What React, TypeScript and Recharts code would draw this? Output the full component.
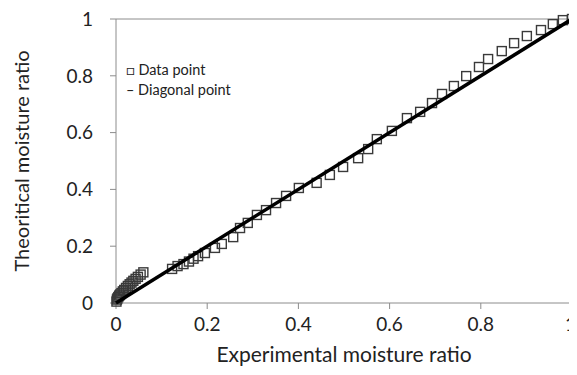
import { ScatterChart, Scatter, XAxis, YAxis, ReferenceLine } from 'recharts';

// Experimental vs theoretical moisture ratio
const experimental = [
  0.001, 0.002, 0.003, 0.005, 0.007, 0.009, 0.012, 0.015, 0.018, 0.022, 0.026, 0.03, 0.034,
  0.038, 0.043, 0.048, 0.054, 0.06,
  0.123, 0.135, 0.148, 0.16, 0.17, 0.18, 0.195, 0.217, 0.232, 0.257, 0.272, 0.289, 0.309,
  0.329, 0.351, 0.373, 0.401, 0.44, 0.469, 0.498, 0.531, 0.553, 0.572, 0.605, 0.638, 0.667,
  0.693, 0.715, 0.741, 0.768, 0.796, 0.816, 0.846, 0.873, 0.901, 0.932, 0.958, 0.98, 1.0,
];
const theoretical = [
  0.005, 0.012, 0.016, 0.021, 0.026, 0.03, 0.035, 0.041, 0.046, 0.053, 0.06, 0.066, 0.072,
  0.078, 0.085, 0.092, 0.1, 0.108,
  0.12, 0.13, 0.137, 0.146, 0.156, 0.165, 0.176, 0.194, 0.208, 0.232, 0.264, 0.282, 0.31,
  0.327, 0.352, 0.377, 0.405, 0.423, 0.451, 0.479, 0.51, 0.542, 0.577, 0.606, 0.651, 0.673,
  0.704, 0.736, 0.764, 0.799, 0.831, 0.859, 0.887, 0.915, 0.94, 0.961, 0.982, 0.996, 1.0,
];
const diagonal = [0, 1];
const ticks = [0, 0.2, 0.4, 0.6, 0.8, 1];

const points = experimental.map((x, i) => ({ x, y: theoretical[i] }));
const line = diagonal.map((v) => ({ x: v, y: v }));

const AXIS = '#8c8c8c';
const TEXT = '#222';
const FONT = 'Lato, "Open Sans", sans-serif';

function SquareDot(props: any) {
  const { cx, cy } = props;
  if (cx == null || cy == null) return null;
  const s = 9;
  return (
    <rect x={cx - s / 2} y={cy - s / 2} width={s} height={s} fill="none" stroke="#3a3a3a" strokeWidth={1.4} />
  );
}

// x tick labels; the last one is nudged so it stays inside the picture
function XTick(props: any) {
  const { x, y, payload } = props;
  const last = payload.value === 1;
  return (
    <text x={last ? x + 4 : x} y={y} dy={16} textAnchor={last ? 'end' : 'middle'} fill={TEXT} fontSize={19} fontFamily={FONT}>
      {String(payload.value)}
    </text>
  );
}

const fmt = (v: number) => String(v);

export default function App() {
  return (
    <div style={{ position: 'relative', width: 577, height: 375, margin: -8, fontFamily: FONT, background: '#fff' }}>
      <ScatterChart width={577} height={375} margin={{ top: 19, right: 5, bottom: 0, left: 0 }} style={{ overflow: 'visible' }}>
        <XAxis
          type="number"
          dataKey="x"
          domain={[0, 1]}
          ticks={ticks}
          interval={0}
          height={72}
          stroke={AXIS}
          tickSize={6}
          tickMargin={6}
          tick={<XTick />}
          label={{ value: 'Experimental moisture ratio', position: 'insideBottom', offset: 13, fill: TEXT, fontSize: 21, fontFamily: FONT }}
        />
        <YAxis
          type="number"
          dataKey="y"
          domain={[0, 1]}
          ticks={ticks}
          interval={0}
          tickFormatter={fmt}
          width={116}
          stroke={AXIS}
          tickSize={6}
          tickMargin={17}
          tick={{ fill: TEXT, fontSize: 19, fontFamily: FONT }}
          label={{ value: 'Theoritical moisture ratio', angle: -90, position: 'insideLeft', offset: 22, style: { textAnchor: 'middle' }, fill: TEXT, fontSize: 20, fontFamily: FONT }}
        />
        <ReferenceLine y={1} stroke={AXIS} strokeWidth={1} />
        <ReferenceLine x={1} stroke={AXIS} strokeWidth={1} />
        <Scatter data={points} shape={<SquareDot />} isAnimationActive={false} />
        <Scatter
          data={line}
          line={{ stroke: '#000', strokeWidth: 3.5 }}
          lineType="joint"
          shape={() => null}
          isAnimationActive={false}
        />
      </ScatterChart>
      <div style={{ position: 'absolute', left: 126, top: 60, fontSize: 14.5, color: TEXT, lineHeight: '20px' }}>
        <div>□ Data point</div>
        <div>– Diagonal point</div>
      </div>
    </div>
  );
}
